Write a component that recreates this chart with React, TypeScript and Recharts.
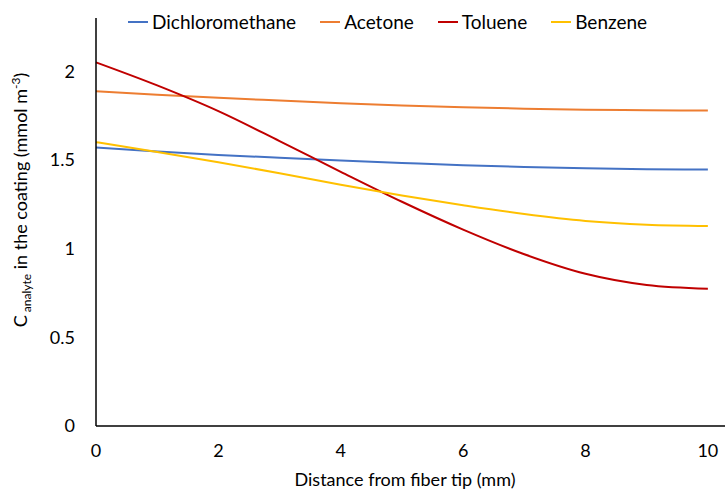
import { LineChart, Line, XAxis, YAxis } from 'recharts';

const distance = [0, 1, 2, 3, 4, 5, 6, 7, 8, 9, 10];
const dichloromethane = [1.57, 1.548, 1.528, 1.512, 1.497, 1.483, 1.47, 1.46, 1.453, 1.448, 1.446];
const acetone = [1.887, 1.867, 1.85, 1.835, 1.82, 1.807, 1.797, 1.789, 1.783, 1.78, 1.778];
const toluene = [2.05, 1.92, 1.775, 1.606, 1.433, 1.264, 1.107, 0.968, 0.858, 0.795, 0.774];
const benzene = [1.6, 1.545, 1.487, 1.425, 1.36, 1.3, 1.245, 1.195, 1.156, 1.135, 1.128];
const xTicks = [0, 2, 4, 6, 8, 10];
const yTicks = [0, 0.5, 1, 1.5, 2];

const series = [
  { key: 'Dichloromethane', color: '#4472C4' },
  { key: 'Acetone', color: '#ED7D31' },
  { key: 'Toluene', color: '#C00000' },
  { key: 'Benzene', color: '#FFC000' },
];

const data = distance.map((d, i) => ({
  d,
  Dichloromethane: dichloromethane[i],
  Acetone: acetone[i],
  Toluene: toluene[i],
  Benzene: benzene[i],
}));

const font = 'Lato, "Open Sans", sans-serif';

function LegendBox() {
  return (
    <div
      style={{
        position: 'absolute',
        top: 12,
        left: 128,
        display: 'flex',
        fontFamily: font,
        fontSize: 19,
        color: '#000',
        lineHeight: '20px',
        whiteSpace: 'nowrap',
      }}
    >
      {series.map((s) => (
        <div key={s.key} style={{ display: 'flex', alignItems: 'center', marginRight: 24 }}>
          <span style={{ width: 20, height: 2, background: s.color, marginRight: 4 }} />
          {s.key}
        </div>
      ))}
    </div>
  );
}

export default function App() {
  return (
    <div style={{ position: 'absolute', left: 0, top: 0, width: 725, height: 490, background: '#fff' }}>
      <LineChart width={725} height={490} data={data} margin={{ top: 18, right: 0, bottom: 0, left: 0 }}>
        <XAxis
          dataKey="d"
          type="number"
          domain={[0, 10.28]}
          ticks={xTicks}
          axisLine={{ stroke: '#000', strokeWidth: 1.5 }}
          tickLine={false}
          tickSize={0}
          tickMargin={18}
          height={64}
          tick={{ fontFamily: font, fontSize: 18, fill: '#000' }}
          label={{
            content: () => (
              <text x={405} y={486} textAnchor="middle" fontFamily={font} fontSize={18} fill="#000">
                Distance from fiber tip (mm)
              </text>
            ),
          }}
        />
        <YAxis
          type="number"
          domain={[0, 2.3]}
          ticks={yTicks}
          axisLine={{ stroke: '#000', strokeWidth: 1.5 }}
          tickLine={false}
          tickSize={0}
          tickMargin={21}
          width={96}
          tick={{ fontFamily: font, fontSize: 18, fill: '#000' }}
          label={{
            content: () => (
              <text
                x={27}
                y={200}
                transform="rotate(-90 27 200)"
                textAnchor="middle"
                fontFamily={font}
                fontSize={18}
                fill="#000"
              >
                C
                <tspan fontSize={12} dy={4}> analyte</tspan>
                <tspan dy={-4}> in the coating (mmol m</tspan>
                <tspan fontSize={12} dy={-7}>-3</tspan>
                <tspan dy={7}>)</tspan>
              </text>
            ),
          }}
        />
        {series.map((s) => (
          <Line
            key={s.key}
            dataKey={s.key}
            type="monotone"
            stroke={s.color}
            strokeWidth={2}
            dot={false}
            isAnimationActive={false}
          />
        ))}
      </LineChart>
      <LegendBox />
    </div>
  );
}
